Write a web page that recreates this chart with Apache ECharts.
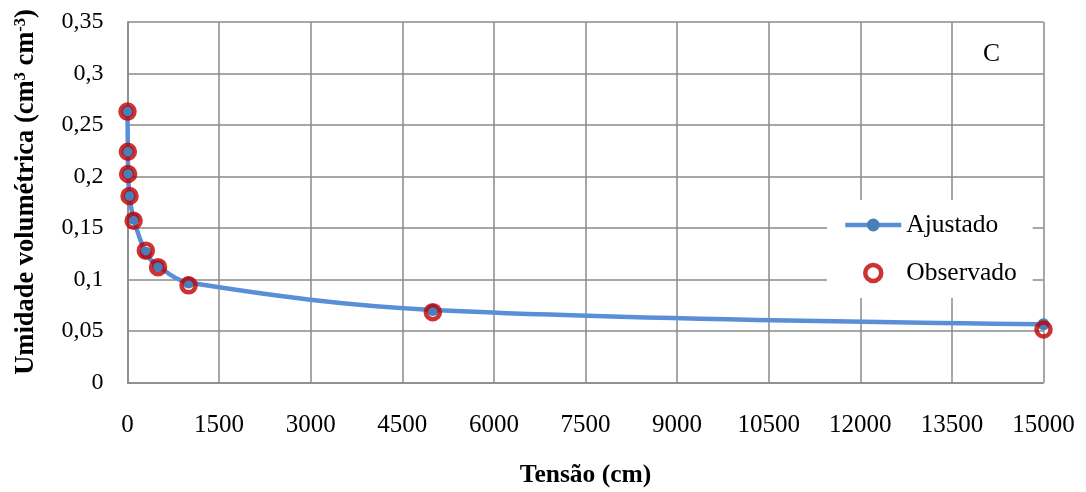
<!DOCTYPE html>
<html>
<head>
<meta charset="utf-8">
<script src="https://cdn.jsdelivr.net/npm/echarts@6/dist/echarts.min.js"></script>
<style>
html,body{margin:0;padding:0;background:#fff;}
#c{width:1086px;height:492px;}
</style>
</head>
<body>
<div id="c"></div>
<script>
var tension = [0, 6, 10, 33, 100, 300, 500, 1000, 5000, 15000];
var observed = [0.263, 0.224, 0.2025, 0.181, 0.157, 0.128, 0.112, 0.0943, 0.0683, 0.0514];
var fitted = [0.263, 0.2245, 0.203, 0.181, 0.159, 0.126, 0.113, 0.097, 0.0705, 0.0565];
var xTicks = [0, 1500, 3000, 4500, 6000, 7500, 9000, 10500, 12000, 13500, 15000];
var yTicks = [0, 0.05, 0.1, 0.15, 0.2, 0.25, 0.3, 0.35];
var seriesNames = ['Ajustado', 'Observado'];
var xTitle = 'Tensão (cm)';
var panelLabel = 'C';

var FONT = '"Liberation Serif", "Times New Roman", serif';
var GRID = '#8a8a8a';
var BIG = 25.5;

var chart = echarts.init(document.getElementById('c'));
chart.setOption({
  animation: false,
  backgroundColor: '#fff',
  grid: {left: 127.5, right: 42.5, top: 22, bottom: 109.5, containLabel: false, outerBoundsMode: 'none'},
  xAxis: {
    type: 'value', min: xTicks[0], max: xTicks[xTicks.length-1], interval: 1500,
    axisLine: {show: true, lineStyle: {color: GRID, width: 1.5}},
    axisTick: {show: false},
    splitLine: {show: true, lineStyle: {color: GRID, width: 1.5}},
    axisLabel: {fontFamily: FONT, fontSize: 25, color: '#000', margin: 30,
      formatter: function(v){ return String(v); }},
    name: xTitle, nameLocation: 'middle', nameGap: 80,
    nameTextStyle: {fontFamily: FONT, fontSize: BIG, fontWeight: 'bold', color: '#000'}
  },
  yAxis: {
    type: 'value', min: yTicks[0], max: yTicks[yTicks.length-1], interval: 0.05,
    axisLine: {show: true, lineStyle: {color: GRID, width: 1.5}},
    axisTick: {show: false},
    splitLine: {show: true, lineStyle: {color: GRID, width: 1.5}},
    axisLabel: {fontFamily: FONT, fontSize: 24, color: '#000', margin: 24,
      formatter: function(v){ return String(Math.round(v*100)/100).replace('.', ','); }}
  },
  legend: {
    orient: 'vertical', left: 827, top: 200,
    backgroundColor: '#fff',
    padding: [12, 16, 12, 16],
    itemGap: 22, itemWidth: 56, itemHeight: 16,
    textStyle: {fontFamily: FONT, fontSize: BIG, color: '#000', lineHeight: 26},
    data: [
      {name: seriesNames[0], lineStyle: {width: 4.5, color: '#5A8FD8'}, itemStyle: {color: '#4A7EBB'}},
      {name: seriesNames[1], itemStyle: {color: '#ffffff', borderColor: '#C00000', borderWidth: 4.5}}
    ]
  },
  graphic: [
    {type: 'text', left: 983, top: 41, style: {text: panelLabel, font: BIG + 'px ' + FONT, fill: '#000'}},
    {type: 'text', x: 25, y: 192, rotation: Math.PI/2,
      style: {
        text: '{m|Umidade volumétrica (cm}{s|3}{m| cm}{s|-3}{m|)}',
        align: 'center', verticalAlign: 'middle',
        rich: {
          m: {fontFamily: FONT, fontSize: 26.5, fontWeight: 'bold', fill: '#000', lineHeight: 30, verticalAlign: 'bottom'},
          s: {fontFamily: FONT, fontSize: 16.5, fontWeight: 'bold', fill: '#000', lineHeight: 30, verticalAlign: 'top', padding: [2,0,0,0]}
        }
      }}
  ],
  series: [
    {
      name: seriesNames[0], type: 'line', smooth: 0.35,
      data: tension.map(function(t, i){ return [t, fitted[i]]; }),
      symbol: 'circle', symbolSize: 12,
      itemStyle: {color: '#4A7EBB'},
      lineStyle: {color: '#5A8FD8', width: 4.5},
      z: 2
    },
    {
      name: seriesNames[1], type: 'scatter',
      data: tension.map(function(t, i){ return [t, observed[i]]; }),
      symbol: 'circle', symbolSize: 14,
      itemStyle: {color: 'rgba(255,255,255,0)', borderColor: '#C00000', borderWidth: 4.5},
      z: 3
    }
  ]
});
</script>
</body>
</html>
